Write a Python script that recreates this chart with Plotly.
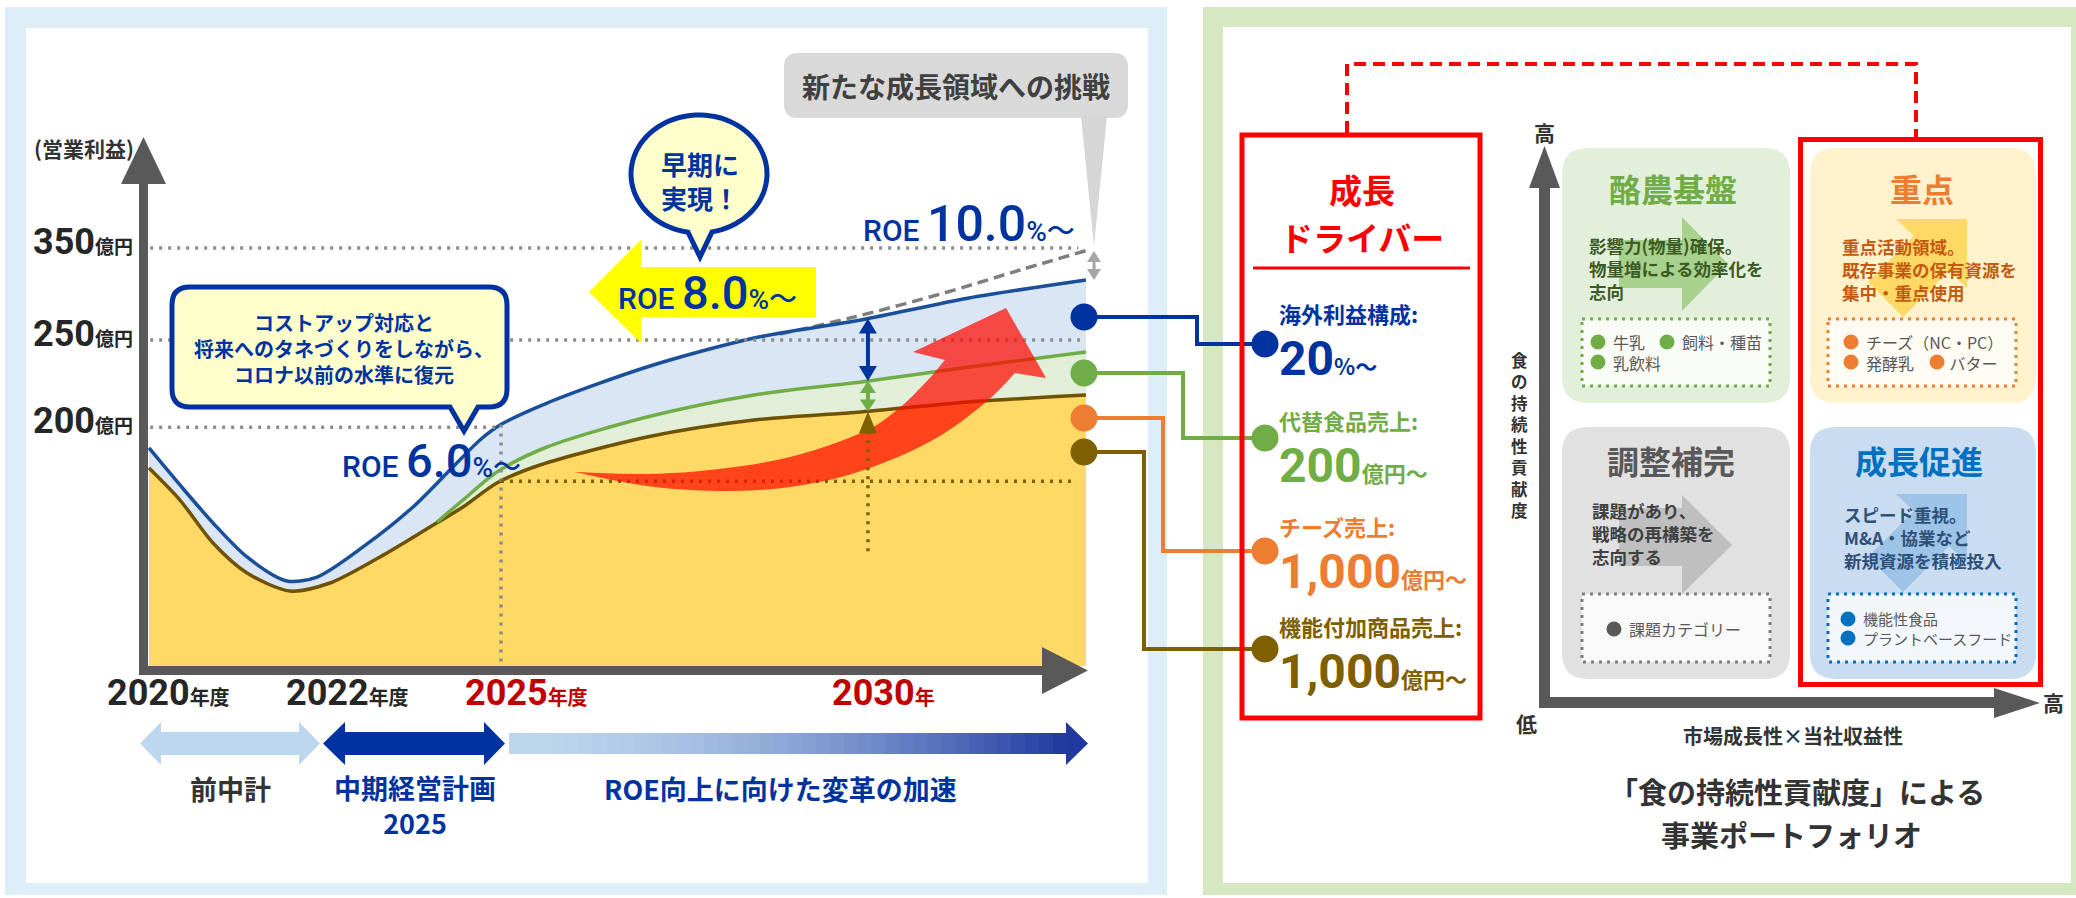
import numpy as np
import plotly.graph_objects as go

W, H = 2076, 898

# ============================ DATA ============================
# Schematic timeline (x): 2020年度 = 0 ; illustrated profit level (y): x-axis baseline = 0
YEAR_LABELS = ["2020", "2022", "2025", "2030"]
YEAR_SUFFIX = ["年度", "年度", "年度", "年"]
YEAR_POS = [0.0, 2.0, 4.0, 8.1]
YEAR_COLORS = ["#262626", "#262626", "#c00000", "#c00000"]

PROFIT_LABELS = ["350", "250", "200"]
PROFIT_LEVEL = [350, 273, 200]          # level on the (schematic) drawn axis
PROFIT_LINE_END = [10.45, 10.47, 4.0]

# 営業利益 curves (schematic units)
BROWN_X = [0.067, 0.413, 0.782, 1.162, 1.642, 2.089, 2.648, 3.207, 3.575, 3.955, 4.436, 5.631, 6.827, 8.022, 9.229, 10.536]
BROWN_Y = [165.8, 139.0, 103.0, 77.9, 62.8, 69.5, 91.3, 116.4, 133.2, 153.3, 168.3, 191.8, 206.0, 212.7, 221.1, 226.9]
GREEN_X = [3.285, 3.575, 3.955, 4.514, 5.631, 6.827, 8.022, 9.229, 10.536]
GREEN_Y = [120.6, 139.0, 162.5, 183.4, 208.5, 227.0, 237.8, 250.4, 263.0]
BLUE_X = [0.067, 0.413, 0.782, 1.162, 1.609, 1.944, 2.458, 3.017, 3.397, 3.765, 3.989, 4.514, 5.631, 6.827, 8.022, 9.229, 10.536]
BLUE_Y = [182.6, 151.6, 119.8, 91.3, 71.2, 74.5, 99.7, 133.2, 161.6, 189.3, 201.8, 220.2, 250.4, 274.7, 289.8, 308.2, 323.3]
TARGET_X = [7.117, 7.899, 8.950, 9.799, 10.559]
TARGET_Y = [278.0, 291.4, 312.4, 331.6, 348.4]

ROE_VALUES = ["6.0", "8.0", "10.0"]

PERIOD_LABELS = ["前中計", "中期経営計画<br>2025", "ROE向上に向けた変革の加速"]

DRIVER_NAMES = ["海外利益構成:", "代替食品売上:", "チーズ売上:", "機能付加商品売上:"]
DRIVER_VALUES = ["20", "200", "1,000", "1,000"]
DRIVER_UNITS = ["%～", "億円～", "億円～", "億円～"]
DRIVER_COLORS = ["#0033a0", "#70ad47", "#ed7d31", "#7f6000"]

QUAD_TITLES = ["酪農基盤", "重点", "調整補完", "成長促進"]
QUAD_TEXT = [["影響力(物量)確保。", "物量増による効率化を", "志向"],
             ["重点活動領域。", "既存事業の保有資源を", "集中・重点使用"],
             ["課題があり、", "戦略の再構築を", "志向する"],
             ["スピード重視。", "M&amp;A・協業など", "新規資源を積極投入"]]

# ============================ HELPERS ============================
JP = "Noto Sans CJK JP"
NARROW = "Liberation Sans Narrow, Roboto, Noto Sans CJK JP"
ROB = "Roboto, Noto Sans CJK JP"
NAVY = "#0033a0"

X0PX, XS = 143.0, 89.5
Y0PX, YS = 666.0, 1.1941
TOPPX, RIGHTPX = 100.0, 1088.0


def fx(u):
    return X0PX + XS * u


def fy(v):
    return Y0PX - YS * v


shapes = []
annos = []


def pts_path(pts, close=True):
    d = "M " + " L ".join(f"{x:.1f},{y:.1f}" for x, y in pts)
    return d + (" Z" if close else "")


def add_path(d, fill=None, line=None, lw=0, layer="above", dash="solid"):
    shapes.append(dict(type="path", path=d, xref="x", yref="y",
                       fillcolor=fill or "rgba(0,0,0,0)", layer=layer,
                       line=dict(color=line or "rgba(0,0,0,0)", width=lw, dash=dash)))


def add_rect(x0, y0, x1, y1, fill=None, line=None, lw=0, layer="above", dash="solid"):
    shapes.append(dict(type="rect", x0=x0, y0=y0, x1=x1, y1=y1, xref="x", yref="y",
                       fillcolor=fill or "rgba(0,0,0,0)", layer=layer,
                       line=dict(color=line or "rgba(0,0,0,0)", width=lw, dash=dash)))


def add_line(x0, y0, x1, y1, color, lw, dash="solid", layer="above"):
    shapes.append(dict(type="line", x0=x0, y0=y0, x1=x1, y1=y1, xref="x", yref="y",
                       layer=layer, line=dict(color=color, width=lw, dash=dash)))


def add_circle(cx, cy, r, fill, layer="above"):
    shapes.append(dict(type="circle", x0=cx - r, y0=cy - r, x1=cx + r, y1=cy + r, xref="x", yref="y",
                       fillcolor=fill, layer=layer, line=dict(color=fill, width=0)))


def rrect(x0, y0, x1, y1, r):
    return (f"M {x0 + r},{y0} L {x1 - r},{y0} Q {x1},{y0} {x1},{y0 + r} L {x1},{y1 - r} "
            f"Q {x1},{y1} {x1 - r},{y1} L {x0 + r},{y1} Q {x0},{y1} {x0},{y1 - r} "
            f"L {x0},{y0 + r} Q {x0},{y0} {x0 + r},{y0} Z")


def txt(x, y, s, size, color, family=JP, bold=True, xanchor="center", yanchor="middle", align=None, weight=None):
    f = dict(family=family, size=size, color=color)
    if weight:
        f["weight"] = weight
    annos.append(dict(x=x, y=y, xref="x", yref="y", text=(f"<b>{s}</b>" if bold else s),
                      showarrow=False, xanchor=xanchor, yanchor=yanchor,
                      align=align or ("left" if xanchor == "left" else "center"),
                      borderpad=0, font=f))


def smooth(pts, n=8):
    pts = np.array(pts, dtype=float)
    P = np.vstack([pts[0], pts, pts[-1]])
    out = []
    for i in range(1, len(P) - 2):
        p0, p1, p2, p3 = P[i - 1], P[i], P[i + 1], P[i + 2]
        for t in np.linspace(0, 1, n, endpoint=False):
            t2, t3 = t * t, t * t * t
            out.append(0.5 * ((2 * p1) + (-p0 + p2) * t + (2 * p0 - 5 * p1 + 4 * p2 - p3) * t2
                              + (-p0 + 3 * p1 - 3 * p2 + p3) * t3))
    out.append(P[-2])
    return [tuple(p) for p in out]


# ============================ PANELS ============================
add_rect(5, 7, 1167, 895, fill="#ddeef8", layer="below")
add_rect(26, 28, 1148, 883, fill="#ffffff", layer="below")
add_rect(1203, 7, 2076, 895, fill="#d5e8c1", layer="below")
add_rect(1223, 27, 2071, 883, fill="#ffffff", layer="below")

# ============================ CHART DECOR (above traces) ============================
DOT = "3px,6px"
for lvl, xe in zip(PROFIT_LEVEL, PROFIT_LINE_END):
    add_line(fx(0.08), fy(lvl), fx(xe), fy(lvl), "#8c8c8c", 3.5, DOT)

u25, u30 = YEAR_POS[2], YEAR_POS[3]
blue25 = float(np.interp(u25, BLUE_X, BLUE_Y))
brown25 = float(np.interp(u25, BROWN_X, BROWN_Y))
add_line(fx(u25), fy(blue25), fx(u25), fy(0), "#8c8c8c", 3.5, DOT)
add_line(fx(u25), fy(brown25), fx(10.42), fy(brown25), "#7f6000", 3.5, DOT)

# red growth arrow
upper = [(574, 472), (647, 474), (719, 469), (790, 457), (861, 433), (897, 410), (926, 382), (945, 360)]
lower = [(1015, 373), (986, 402), (933, 440), (861, 471), (790, 487), (719, 491), (647, 486), (574, 472)]
red_pts = smooth(upper, 6) + [(913, 352), (1006, 308), (1046, 378)] + smooth(lower, 6)
add_path(pts_path(red_pts), fill="rgba(255,10,0,0.72)")

# 2030 difference arrows
b30 = float(np.interp(u30, BLUE_X, BLUE_Y))
g30 = float(np.interp(u30, GREEN_X, GREEN_Y))
r30 = float(np.interp(u30, BROWN_X, BROWN_Y))
xa = fx(u30)


def dbl_arrow(x, ya, yb, color, hw=8, hh=13, lw=4):
    add_line(x, ya + hh - 2, x, yb - hh + 2, color, lw)
    add_path(pts_path([(x, ya), (x - hw, ya + hh), (x + hw, ya + hh)]), fill=color)
    add_path(pts_path([(x, yb), (x - hw, yb - hh), (x + hw, yb - hh)]), fill=color)


add_line(xa, fy(r30) + 20, xa, fy(95), "#7f6000", 3.5, DOT)
add_path(pts_path([(xa, fy(r30)), (xa - 9, fy(r30) + 22), (xa + 9, fy(r30) + 22)]), fill="#7f6000")
dbl_arrow(xa, fy(b30), fy(g30), NAVY, 9, 15)
dbl_arrow(xa, fy(g30), fy(r30), "#70ad47", 8, 12)
dbl_arrow(fx(TARGET_X[-1]) + 6, fy(TARGET_Y[-1]) + 1, fy(BLUE_Y[-1]), "#a6a6a6", 7, 11, 3)

# axes arrows
add_rect(139, 183, 148, 675, fill="#595959")
add_path(pts_path([(121, 184), (166, 184), (143.5, 137)]), fill="#595959")
add_rect(139, 666, 1044, 675, fill="#595959")
add_path(pts_path([(1042, 647), (1088, 670.5), (1042, 694)]), fill="#595959")

# callouts
add_path(rrect(784, 53, 1128, 118, 14), fill="#d9d9d9")
add_path(pts_path([(1081, 116), (1107, 116), (1094, 246)]), fill="#d6d6d6")

add_path(pts_path([(589, 292), (641, 240), (641, 267), (816, 267), (816, 317), (641, 317), (641, 343)]), fill="#ffff00")

cx, cy, rx, ry = 699, 174, 68, 59
ang = np.radians(np.linspace(99.3, 439, 80))
ell = [(cx + rx * np.cos(a), cy + ry * np.sin(a)) for a in ang] + [(700, 257)]
add_path(pts_path(ell), fill="#ffffcc", line=NAVY, lw=5)

bub = ("M 190,287 L 489,287 Q 507,287 507,305 L 507,389 Q 507,407 489,407 L 478,407 L 464,431 "
       "L 450,407 L 190,407 Q 172,407 172,389 L 172,305 Q 172,287 190,287 Z")
add_path(bub, fill="#ffffcc", line=NAVY, lw=5)

# period arrows
add_path(pts_path([(140, 743.5), (161, 722), (161, 732), (299, 732), (299, 722), (320, 743.5),
                   (299, 765), (299, 755), (161, 755), (161, 765)]), fill="#bdd7ee")
add_path(pts_path([(323, 743.5), (345, 722), (345, 732), (484, 732), (484, 722), (505, 743.5),
                   (484, 765), (484, 755), (345, 755), (345, 765)]), fill=NAVY)
c0, c1 = np.array([189, 215, 238]), np.array([32, 56, 160])
nseg = 40
xs = np.linspace(509, 1067, nseg + 1)
for i in range(nseg):
    t = ((i + 0.5) / nseg) ** 1.7
    c = (c0 + (c1 - c0) * t).astype(int)
    add_rect(xs[i], 733, xs[i + 1] + 1, 754, fill=f"rgb({c[0]},{c[1]},{c[2]})")
add_path(pts_path([(1066, 722), (1088, 743.5), (1066, 765)]), fill="rgb(32,56,160)")

# connectors and dots
conn_left_y = [317, 373, 418, 452]
conn_mid_x = [1197, 1183, 1163, 1144]
conn_right_y = [344, 438, 551, 649]
for ly, mx, ry_, col in zip(conn_left_y, conn_mid_x, conn_right_y, DRIVER_COLORS):
    add_path(f"M 1084,{ly} L {mx},{ly} L {mx},{ry_} L 1265,{ry_}", line=col, lw=4)
for ly, ry_, col in zip(conn_left_y, conn_right_y, DRIVER_COLORS):
    add_circle(1084, ly, 13.5, col)
    add_circle(1265, ry_, 13.5, col)

# ============================ RIGHT PANEL ============================
add_rect(1242, 135, 1480, 718, line="#ff0000", lw=5)
add_line(1253, 268, 1470, 268, "#ff0000", 3)
add_path("M 1347,133 L 1347,64 L 1916,64 L 1916,137", line="#ff0000", lw=4, dash="12px,7px")

quad_boxes = [(1562, 148, 1790, 403), (1810, 148, 2036, 403), (1562, 427, 1790, 679), (1810, 427, 2036, 679)]
quad_bg = ["#e2efda", "#fff2cc", "#e1e1e1", "#c9dcf0"]
for (x0, y0, x1, y1), bg in zip(quad_boxes, quad_bg):
    add_path(rrect(x0, y0, x1, y1, 26), fill=bg)

add_path(pts_path([(1619, 240), (1682, 240), (1682, 217), (1728, 264), (1682, 311), (1682, 288), (1619, 288)]), fill="#a9d18e")
add_path(pts_path([(1619, 508), (1682, 508), (1682, 495), (1732, 545), (1682, 594), (1682, 566), (1619, 566)]), fill="#bfbfbf")
diag = [(1896, 219), (1967, 219), (1967, 288), (1949, 271), (1903, 317), (1868, 282), (1914, 236)]
add_path(pts_path(diag), fill="#ffd966")
add_path(pts_path([(x, y + 275) for x, y in diag]), fill="#9dc3e6")

add_rect(1800.5, 139.5, 2040.5, 684.5, line="#ff0000", lw=5)

# matrix axes
add_rect(1539, 187, 1550, 708, fill="#595959")
add_path(pts_path([(1529, 188), (1560, 188), (1544.5, 146)]), fill="#595959")
add_rect(1539, 697, 1996, 708, fill="#595959")
add_path(pts_path([(1994, 688), (2040, 703), (1994, 718)]), fill="#595959")

dot_boxes = [(1582, 319, 1770, 386), (1828, 319, 2016, 386), (1582, 594, 1770, 662), (1828, 594, 2016, 662)]
dot_cols = ["#70ad47", "#ed7d31", "#7f7f7f", "#0070c0"]
for (x0, y0, x1, y1), col in zip(dot_boxes, dot_cols):
    add_rect(x0, y0, x1, y1, fill="rgba(255,255,255,0.78)", line=col, lw=3, dash="3px,5px")

# item bullets
bullets = [(1598, 342, "#70ad47"), (1667, 342, "#70ad47"), (1598, 362, "#70ad47"),
           (1851, 342, "#ed7d31"), (1851, 362, "#ed7d31"), (1937, 362, "#ed7d31"),
           (1614, 629, "#595959"),
           (1848, 619, "#0070c0"), (1848, 638, "#0070c0")]
for bx, by, bc in bullets:
    add_circle(bx, by, 7.5, bc)

# ============================ TEXT ============================
txt(84, 148, "(営業利益)", 21, "#333333")
for lab, lvl in zip(PROFIT_LABELS, PROFIT_LEVEL):
    txt(134, fy(lvl) - 6, f"{lab}<span style='font-size:19px'>億円</span>", 36, "#262626",
        family=NARROW, xanchor="right")
for lab, suf, pos, col in zip(YEAR_LABELS, YEAR_SUFFIX, YEAR_POS, YEAR_COLORS):
    txt(fx(pos) - 37, 693, f"{lab}<span style='font-size:20px'>{suf}</span>", 36, col,
        family=NARROW, xanchor="left")


def roe(v, big=47):
    return (f"<span style='font-size:30px'>ROE </span><span style='font-size:{big}px'>{v}</span>"
            f"<span style='font-size:28px'>%～</span>")


txt(341, 460, roe(ROE_VALUES[0]), 30, NAVY, family=ROB, bold=False, xanchor="left", weight=500)
txt(617, 292, roe(ROE_VALUES[1]), 30, NAVY, family=ROB, bold=False, xanchor="left", weight=500)
txt(862, 224, roe(ROE_VALUES[2], 50), 30, NAVY, family=ROB, bold=False, xanchor="left", weight=500)

txt(700, 180, "早期に<br>実現！", 26, NAVY)
txt(344, 348, "コストアップ対応と<br>将来へのタネづくりをしながら、<br>コロナ以前の水準に復元", 20, NAVY)
txt(956, 86, "新たな成長領域への挑戦", 28, "#404040")

txt(230, 788, PERIOD_LABELS[0], 27, "#333333")
txt(415, 805, PERIOD_LABELS[1], 27, NAVY)
txt(780, 788, PERIOD_LABELS[2], 27, NAVY)

# growth driver box
txt(1362, 189, "成長", 33, "#ff0000")
txt(1362, 237, "ドライバー", 33, "#ff0000")
name_top = [296, 403, 509, 609]
for nm, vv, un, col, ny in zip(DRIVER_NAMES, DRIVER_VALUES, DRIVER_UNITS, DRIVER_COLORS, name_top):
    s = (f"<span style='font-size:22px'>{nm}</span><br>"
         f"<span style='font-size:48px;font-family:Roboto'>{vv}</span><span style='font-size:22px'>{un}</span>")
    txt(1278, ny, s, 40, col, xanchor="left", yanchor="top")

# matrix labels
txt(1544, 132, "高", 21, "#333333")
txt(2053, 702, "高", 21, "#333333")
txt(1526, 723, "低", 21, "#333333")
txt(1519, 435, "<br>".join("食の持続性貢献度"), 16.5, "#333333")
txt(1793, 735, "市場成長性×当社収益性", 20, "#333333")
txt(1797, 791, "「食の持続性貢献度」による", 29, "#333333")
txt(1791, 834, "事業ポートフォリオ", 29, "#333333")

title_pos = [(1673, 188), (1922, 188), (1671, 460), (1919, 460)]
title_cols = ["#70ad47", "#ed7d31", "#595959", "#0070c0"]
for t, (x, y), col in zip(QUAD_TITLES, title_pos, title_cols):
    txt(x, y, t, 32, col)

body_pos = [(1588, 268), (1841, 269), (1591, 533), (1843, 537)]
body_cols = ["#3b5a25", "#c55a11", "#404040", "#2f5078"]
for lines, (x, y), col in zip(QUAD_TEXT, body_pos, body_cols):
    txt(x, y, "<br>".join(lines), 17.5, col, xanchor="left")

GRAY_T = "#595959"
txt(1612, 352, "牛乳<br>乳飲料", 16, GRAY_T, bold=False, xanchor="left")
txt(1681, 342, "飼料・種苗", 16, GRAY_T, bold=False, xanchor="left")
txt(1865, 352, "チーズ（NC・PC）<br>発酵乳　　 バター", 16, GRAY_T, bold=False, xanchor="left")
txt(1628, 629, "課題カテゴリー", 16, GRAY_T, bold=False, xanchor="left")
txt(1862, 628.5, "機能性食品<br>プラントベースフード", 15, GRAY_T, bold=False, xanchor="left")

# ============================ TRACES ============================
fig = go.Figure()
fig.add_trace(go.Scatter(x=[0, W], y=[0, H], mode="markers", marker=dict(opacity=0), xaxis="x", yaxis="y",
                         hoverinfo="skip", showlegend=False))

green_fill_x = [x for x in BROWN_X if x < GREEN_X[0]] + GREEN_X
green_fill_y = [y for x, y in zip(BROWN_X, BROWN_Y) if x < GREEN_X[0]] + GREEN_Y

common = dict(xaxis="x2", yaxis="y2", hoverinfo="skip", showlegend=False)
fig.add_trace(go.Scatter(x=BROWN_X, y=BROWN_Y, mode="lines", fill="tozeroy", fillcolor="#ffd966",
                         line=dict(width=0, shape="spline", smoothing=0.8), **common))
fig.add_trace(go.Scatter(x=green_fill_x, y=green_fill_y, mode="lines", fill="tonexty", fillcolor="#e1eed8",
                         line=dict(width=0, shape="spline", smoothing=0.8), **common))
fig.add_trace(go.Scatter(x=BLUE_X, y=BLUE_Y, mode="lines", fill="tonexty", fillcolor="#dae6f4",
                         line=dict(width=0, shape="spline", smoothing=0.8), **common))
fig.add_trace(go.Scatter(x=TARGET_X, y=TARGET_Y, mode="lines",
                         line=dict(color="#7f7f7f", width=3.5, dash="11px,6px", shape="spline"), **common))
fig.add_trace(go.Scatter(x=BROWN_X, y=BROWN_Y, mode="lines",
                         line=dict(color="#6e5200", width=3.5, shape="spline", smoothing=0.8), **common))
fig.add_trace(go.Scatter(x=GREEN_X, y=GREEN_Y, mode="lines",
                         line=dict(color="#70ad47", width=3.5, shape="spline", smoothing=0.8), **common))
fig.add_trace(go.Scatter(x=BLUE_X, y=BLUE_Y, mode="lines",
                         line=dict(color="#1a4f99", width=3.5, shape="spline", smoothing=0.8), **common))

fig.update_layout(
    width=W, height=H, margin=dict(l=0, r=0, t=0, b=0),
    paper_bgcolor="#ffffff", plot_bgcolor="rgba(0,0,0,0)", showlegend=False,
    xaxis=dict(range=[0, W], domain=[0, 1], visible=False, fixedrange=True),
    yaxis=dict(range=[H, 0], domain=[0, 1], visible=False, fixedrange=True),
    xaxis2=dict(range=[0, (RIGHTPX - X0PX) / XS], domain=[X0PX / W, RIGHTPX / W], anchor="y2",
                visible=False, fixedrange=True),
    yaxis2=dict(range=[0, (Y0PX - TOPPX) / YS], domain=[(H - Y0PX) / H, (H - TOPPX) / H], anchor="x2",
                visible=False, fixedrange=True),
    shapes=shapes, annotations=annos, hovermode=False,
)
fig.write_html("out.html", config=dict(displayModeBar=False))
